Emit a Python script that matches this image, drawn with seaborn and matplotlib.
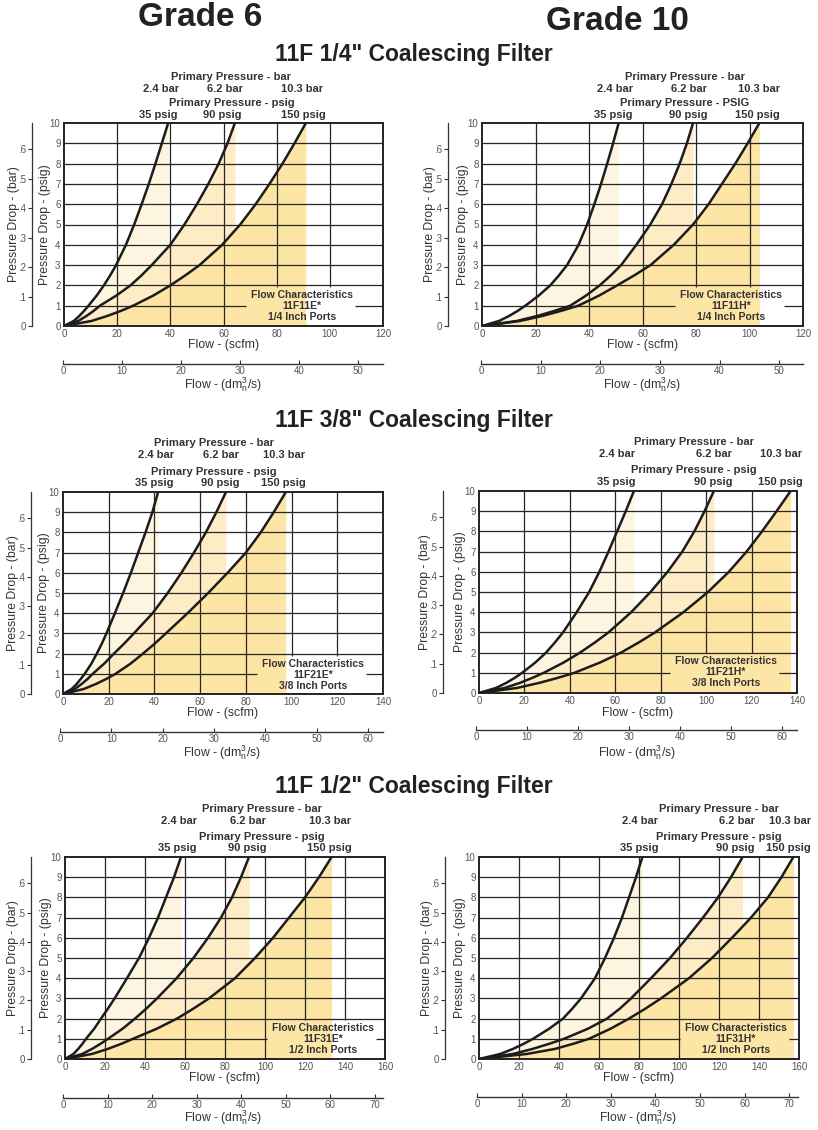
import numpy as np
import pandas as pd
import matplotlib
matplotlib.use('Agg')
import matplotlib.pyplot as plt
import seaborn as sns

# Pressure drop (psig) levels at which the flow of every curve was read
psig = [0, 0.25, 0.5, 0.75, 1, 1.5, 2, 2.5, 3, 4, 5, 6, 7, 8, 9, 10]

inlet_bar = ['2.4 bar', '6.2 bar', '10.3 bar']
inlet_psig = ['35 psig', '90 psig', '150 psig']

# Flow (scfm) at each psig level, 35 / 90 / 150 psig inlet
# 11F 1/4" - Grade 6 (11F11E*)
flow_11f11e_35 = [0, 3.7, 5.8, 7.6, 9.2, 12.3, 15.0, 17.4, 19.6, 23.3, 26.4, 29.2, 31.9, 34.4, 36.8, 39.2]
flow_11f11e_90 = [0, 5.4, 8.5, 11.2, 13.5, 19.7, 25.0, 29.2, 33.0, 40.0, 45.3, 50.0, 54.3, 58.2, 61.5, 64.3]
flow_11f11e_150 = [0, 10.4, 16.4, 21.5, 26.0, 33.6, 40.0, 45.7, 51.0, 59.5, 66.3, 72.1, 77.3, 82.2, 86.7, 91.0]
# 11F 1/4" - Grade 10 (11F11H*)
flow_11f11h_35 = [0, 6.4, 10.2, 13.4, 16.2, 21.2, 25.5, 28.8, 31.8, 36.1, 39.3, 42.0, 44.5, 46.8, 49.0, 51.1]
flow_11f11h_90 = [0, 13.1, 20.8, 27.2, 33.0, 38.9, 44.0, 48.2, 52.0, 57.7, 62.9, 67.3, 70.8, 73.9, 76.6, 78.9]
flow_11f11h_150 = [0, 14.3, 22.7, 29.7, 36.0, 43.8, 50.5, 57.0, 63.0, 71.7, 78.9, 84.7, 89.7, 94.7, 99.3, 103.7]
# 11F 3/8" - Grade 6 (11F21E*)
flow_11f21e_35 = [0, 3.8, 6.0, 7.8, 9.5, 12.4, 14.8, 17.0, 19.0, 22.7, 26.3, 29.7, 32.9, 36.1, 39.1, 41.6]
flow_11f21e_90 = [0, 5.2, 8.2, 10.8, 13.0, 18.0, 22.3, 26.8, 31.0, 39.2, 45.8, 51.8, 57.3, 62.5, 67.1, 71.3]
flow_11f21e_150 = [0, 9.1, 14.5, 19.0, 23.0, 29.5, 35.0, 40.2, 45.0, 54.5, 63.5, 72.0, 80.0, 86.5, 92.2, 97.5]
# 11F 3/8" - Grade 10 (11F21H*)
flow_11f21h_35 = [0, 7.5, 12.0, 15.7, 19.0, 24.7, 29.5, 33.4, 37.0, 43.0, 48.5, 53.0, 57.0, 60.8, 64.6, 68.2]
flow_11f21h_90 = [0, 11.3, 18.0, 23.5, 28.5, 37.1, 44.5, 51.0, 57.0, 67.0, 75.5, 83.0, 89.5, 94.8, 99.3, 103.4]
flow_11f21h_150 = [0, 16.7, 26.5, 34.7, 42.0, 53.1, 62.5, 70.3, 77.5, 90.0, 100.8, 110.0, 117.8, 124.6, 131.0, 137.2]
# 11F 1/2" - Grade 6 (11F31E*)
flow_11f31e_35 = [0, 4.2, 6.6, 8.7, 10.5, 14.6, 18.0, 21.5, 24.8, 31.0, 37.0, 42.0, 46.5, 50.5, 54.5, 58.0]
flow_11f31e_90 = [0, 8.6, 13.5, 17.7, 21.5, 28.8, 35.0, 40.7, 46.0, 55.8, 64.2, 71.5, 78.0, 83.5, 88.0, 92.0]
flow_11f31e_150 = [0, 13.5, 21.4, 28.1, 34.0, 45.9, 56.0, 64.3, 72.0, 85.0, 95.0, 104.0, 112.0, 120.0, 127.0, 133.3]
# 11F 1/2" - Grade 10 (11F31H*)
flow_11f31h_35 = [0, 10.7, 17.0, 22.3, 27.0, 35.1, 42.0, 46.7, 51.0, 58.0, 63.0, 67.5, 71.5, 75.0, 78.5, 81.7]
flow_11f31h_90 = [0, 17.0, 26.8, 35.0, 42.5, 54.5, 64.0, 70.5, 76.0, 86.0, 95.5, 104.0, 112.0, 119.5, 126.0, 131.8]
flow_11f31h_150 = [0, 24.0, 38.0, 47.0, 55.0, 65.8, 75.0, 83.3, 91.0, 105.0, 116.5, 126.5, 136.0, 144.5, 151.2, 157.2]

bar_ticks = [0, 0.1, 0.2, 0.3, 0.4, 0.5, 0.6]
bar_ticklabels = ['0', '.1', '.2', '.3', '.4', '.5', '.6']

panels = [
    dict(model='11F11E*', ports='1/4 Inch Ports', xmax=120, dmmax=54.2, psig_head='Primary Pressure - psig',
         curves=[flow_11f11e_35, flow_11f11e_90, flow_11f11e_150]),
    dict(model='11F11H*', ports='1/4 Inch Ports', xmax=120, dmmax=54.0, psig_head='Primary Pressure - PSIG',
         curves=[flow_11f11h_35, flow_11f11h_90, flow_11f11h_150]),
    dict(model='11F21E*', ports='3/8 Inch Ports', xmax=140, dmmax=62.9, psig_head='Primary Pressure - psig',
         curves=[flow_11f21e_35, flow_11f21e_90, flow_11f21e_150]),
    dict(model='11F21H*', ports='3/8 Inch Ports', xmax=140, dmmax=62.9, psig_head='Primary Pressure - psig',
         curves=[flow_11f21h_35, flow_11f21h_90, flow_11f21h_150]),
    dict(model='11F31E*', ports='1/2 Inch Ports', xmax=160, dmmax=71.8, psig_head='Primary Pressure - psig',
         curves=[flow_11f31e_35, flow_11f31e_90, flow_11f31e_150]),
    dict(model='11F31H*', ports='1/2 Inch Ports', xmax=160, dmmax=72.0, psig_head='Primary Pressure - psig',
         curves=[flow_11f31h_35, flow_11f31h_90, flow_11f31h_150]),
]

# layout in pixels (from the top-left corner of the page)
layout = [
    dict(plot=(64, 123, 383, 326), barx=32, dm=(63, 383, 364), scfm_y=345, dm_y=385,
         head_bar=(231, 77), bar_x=[161, 225, 302], bar_y=89,
         head_psig=(232, 103), psig_x=[158, 222, 303], psig_y=115, fc=(302, 306)),
    dict(plot=(482, 123, 803, 326), barx=448, dm=(481, 803, 364), scfm_y=345, dm_y=385,
         head_bar=(685, 77), bar_x=[615, 689, 759], bar_y=89,
         head_psig=(685, 103), psig_x=[613, 688, 757], psig_y=115, fc=(731, 306)),
    dict(plot=(63, 492, 383, 694), barx=31, dm=(60, 383, 732), scfm_y=713, dm_y=753,
         head_bar=(214, 443), bar_x=[156, 221, 284], bar_y=455,
         head_psig=(214, 472), psig_x=[154, 220, 283], psig_y=483, fc=(313, 675)),
    dict(plot=(479, 491, 797, 693), barx=443, dm=(476, 797, 730), scfm_y=713, dm_y=753,
         head_bar=(694, 442), bar_x=[617, 714, 781], bar_y=454,
         head_psig=(694, 470), psig_x=[616, 713, 780], psig_y=482, fc=(726, 672)),
    dict(plot=(65, 857, 385, 1059), barx=31, dm=(63, 383, 1098), scfm_y=1078, dm_y=1118,
         head_bar=(262, 809), bar_x=[179, 248, 330], bar_y=821,
         head_psig=(262, 837), psig_x=[177, 247, 329], psig_y=848, fc=(323, 1039)),
    dict(plot=(479, 857, 799, 1059), barx=445, dm=(477, 798, 1097), scfm_y=1078, dm_y=1118,
         head_bar=(719, 809), bar_x=[640, 737, 790], bar_y=821,
         head_psig=(719, 837), psig_x=[639, 735, 788], psig_y=848, fc=(736, 1039)),
]

W, H = 818, 1130
shade_colors = ['#fef5e0', '#fdecc6', '#fde5a6']
line_col = '#1c1c1c'
grid_col = '#262626'
text_col = '#333333'
tick_col = '#555555'


def fx(x):
    return x / W


def fy(y):
    return 1 - y / H


def rect(l, t, r, b):
    return [l / W, 1 - b / H, (r - l) / W, (b - t) / H]


sns.set_style('white')
plt.rcParams['font.family'] = ['Liberation Sans', 'DejaVu Sans']
plt.rcParams['mathtext.fontset'] = 'custom'
plt.rcParams['mathtext.rm'] = 'Liberation Sans'
plt.rcParams['mathtext.it'] = 'Liberation Sans'

fig = plt.figure(figsize=(W / 100, H / 100), dpi=100)
renderer = fig.canvas.get_renderer()

# titles
fig.text(fx(200), fy(18), 'Grade 6', fontsize=24, fontweight='bold', ha='center', va='center', color='#222')
fig.text(fx(617), fy(22), 'Grade 10', fontsize=24, fontweight='bold', ha='center', va='center', color='#222')
for ty, port in zip([54, 421, 786], ['1/4', '3/8', '1/2']):
    fig.text(fx(414), fy(ty), '11F ' + port + '" Coalescing Filter', fontsize=16.5, fontweight='bold',
             ha='center', va='center', color='#222')

for spec, lay in zip(panels, layout):
    L, T, R, B = lay['plot']
    xmax = spec['xmax']
    ax = fig.add_axes(rect(L, T, R, B))
    ax.set_xlim(0, xmax)
    ax.set_ylim(0, 10)

    # shaded areas under each curve
    for flows, col in zip(spec['curves'], shade_colors):
        ax.fill_between(flows, 0, psig, color=col, lw=0, zorder=1)

    # curves
    for flows in spec['curves']:
        df = pd.DataFrame({'flow': flows, 'psig': psig})
        sns.lineplot(data=df, x='flow', y='psig', sort=False, estimator=None,
                     color=line_col, lw=1.8, ax=ax, zorder=4)

    # flow characteristics note (grid lines are cut around it)
    cx, cy = lay['fc']
    note = fig.text(fx(cx), fy(cy), 'Flow Characteristics\n' + spec['model'] + '\n' + spec['ports'],
                    ha='center', va='center', fontsize=7.5, fontweight='bold', color=text_col,
                    linespacing=1.12, zorder=5)
    bb = note.get_window_extent(renderer)
    inv = ax.transData.inverted()
    bx0, _ = inv.transform((bb.x0 - 5, bb.y0))
    bx1, btop = inv.transform((bb.x1 + 2, bb.y1 + 3))

    for xv in range(20, xmax, 20):
        y0 = btop if bx0 <= xv <= bx1 else 0
        ax.vlines(xv, y0, 10, color=grid_col, lw=0.9, zorder=2)
    for yv in range(1, 10):
        if yv <= btop:
            ax.hlines(yv, 0, bx0, color=grid_col, lw=0.9, zorder=2)
            if bx1 < xmax:
                ax.hlines(yv, bx1, xmax, color=grid_col, lw=0.9, zorder=2)
        else:
            ax.hlines(yv, 0, xmax, color=grid_col, lw=0.9, zorder=2)

    ax.set_xticks(range(0, xmax + 1, 20))
    ax.set_yticks(range(0, 11))
    ax.tick_params(length=0, labelsize=7, labelcolor=tick_col, pad=2.5)
    for s in ax.spines.values():
        s.set_linewidth(1.4)
        s.set_color('#222')
        s.set_zorder(6)
    ax.set_xlabel('Flow - (scfm)', fontsize=8.8, color=text_col, va='center')
    ax.xaxis.set_label_coords(fx((L + R) / 2), fy(lay['scfm_y']), transform=fig.transFigure)
    ax.set_ylabel('Pressure Drop - (psig)', fontsize=8.8, color=text_col, va='center')
    ax.yaxis.set_label_coords(fx(L - 19), fy((T + B) / 2), transform=fig.transFigure)

    # secondary pressure axis in bar
    bxp = lay['barx']
    axb = fig.add_axes(rect(bxp, T, bxp + 1, B))
    axb.set_ylim(0, 10 / 14.5)
    axb.set_xticks([])
    axb.set_yticks(bar_ticks)
    axb.set_yticklabels(bar_ticklabels)
    for side in ['top', 'right', 'bottom']:
        axb.spines[side].set_visible(False)
    axb.spines['left'].set_color('#333')
    axb.spines['left'].set_linewidth(0.9)
    axb.patch.set_visible(False)
    axb.tick_params(axis='y', left=True, direction='out', length=3, width=0.8, pad=1,
                    labelsize=7, labelcolor=tick_col, color='#333')
    axb.set_ylabel('Pressure Drop - (bar)', fontsize=8.8, color=text_col, va='center')
    axb.yaxis.set_label_coords(fx(bxp - 18), fy((T + B) / 2), transform=fig.transFigure)

    # secondary flow axis in dm3n/s
    dL, dR, dy = lay['dm']
    axd = fig.add_axes([fx(dL), fy(dy), (dR - dL) / W, 0.5 / H])
    axd.set_xlim(0, spec['dmmax'])
    axd.set_xticks(range(0, int(spec['dmmax']) + 1, 10))
    axd.set_yticks([])
    for side in ['top', 'left', 'right']:
        axd.spines[side].set_visible(False)
    axd.spines['bottom'].set_color('#333')
    axd.spines['bottom'].set_linewidth(1.0)
    axd.patch.set_visible(False)
    axd.tick_params(axis='x', bottom=True, direction='in', length=3, width=0.8, pad=1.5,
                    labelsize=7, labelcolor=tick_col, color='#333')
    axd.set_xlabel(r'Flow - (dm$^{3}_{n}$/s)', fontsize=8.8, color=text_col, va='center')
    axd.xaxis.set_label_coords(fx((dL + dR) / 2), fy(lay['dm_y']), transform=fig.transFigure)

    # inlet pressure headings
    hx, hy = lay['head_bar']
    fig.text(fx(hx), fy(hy), 'Primary Pressure - bar', fontsize=8, fontweight='bold',
             ha='center', va='center', color=text_col)
    for lx, lab in zip(lay['bar_x'], inlet_bar):
        fig.text(fx(lx), fy(lay['bar_y']), lab, fontsize=8, fontweight='bold',
                 ha='center', va='center', color=text_col)
    hx, hy = lay['head_psig']
    fig.text(fx(hx), fy(hy), spec['psig_head'], fontsize=8, fontweight='bold',
             ha='center', va='center', color=text_col)
    for lx, lab in zip(lay['psig_x'], inlet_psig):
        fig.text(fx(lx), fy(lay['psig_y']), lab, fontsize=8, fontweight='bold',
                 ha='center', va='center', color=text_col)

fig.savefig('out.png', dpi=100)
